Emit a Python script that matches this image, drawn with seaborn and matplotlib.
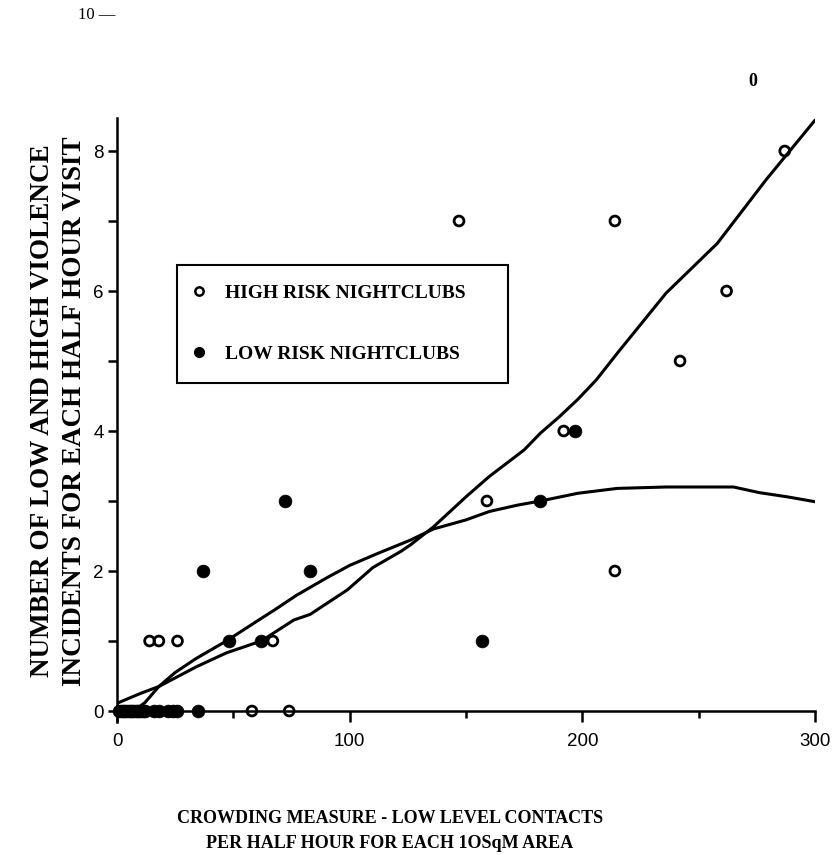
import numpy as np
import pandas as pd
import matplotlib
matplotlib.use("Agg")
import matplotlib.pyplot as plt
from matplotlib.lines import Line2D
import seaborn as sns

# ---- data ----
high_x = [14, 18, 26, 58, 67, 74, 147, 159, 192, 214, 214, 242, 262, 287]
high_y = [1, 1, 1, 0, 1, 0, 7, 3, 4, 7, 2, 5, 6, 8]

low_x = [1, 2, 3, 4, 5, 6, 7, 8, 9, 10, 11, 12, 16, 18, 22, 24, 26, 35,
         37, 48, 62, 72, 83, 157, 182, 197]
low_y = [0] * 18 + [2, 1, 1, 3, 2, 1, 3, 4]

# smoothed trend curves
high_curve_x = [0, 10, 18, 34, 47, 62, 76, 83, 99, 110, 122, 126, 136, 150, 160,
                175, 182, 190, 198, 206, 215, 236, 258, 279, 300]
high_curve_y = [0.11, 0.25, 0.35, 0.63, 0.83, 1.0, 1.3, 1.38, 1.73, 2.05, 2.28, 2.37,
                2.63, 3.06, 3.35, 3.73, 3.97, 4.2, 4.45, 4.73, 5.11, 5.97, 6.68, 7.59, 8.44]

low_curve_x = [0, 8, 12, 18, 25, 34, 47, 60, 68, 77, 90, 100, 112, 126, 136, 150,
               160, 172, 182, 198, 215, 236, 265, 276, 288, 300]
low_curve_y = [0.0, 0.02, 0.12, 0.35, 0.55, 0.75, 1.0, 1.28, 1.45, 1.65, 1.9, 2.08,
               2.25, 2.44, 2.6, 2.73, 2.85, 2.94, 3.0, 3.11, 3.18, 3.2, 3.2, 3.12,
               3.06, 2.99]

x_major = [0, 100, 200, 300]
x_minor = [50, 150, 250]
y_major = [0, 2, 4, 6, 8]
y_minor = [1, 3, 5, 7]

high_label = "HIGH RISK NIGHTCLUBS"
low_label = "LOW RISK NIGHTCLUBS"
xlabel = "CROWDING MEASURE - LOW LEVEL CONTACTS\nPER HALF HOUR FOR EACH 1OSqM AREA"
ylabel = "NUMBER OF LOW AND HIGH VIOLENCE\nINCIDENTS FOR EACH HALF HOUR VISIT"

# ---- figure ----
sns.set_style("ticks")
plt.rcParams["font.family"] = ["Liberation Sans", "DejaVu Sans"]
plt.rcParams["text.color"] = "black"
plt.rcParams["axes.labelcolor"] = "black"
plt.rcParams["xtick.color"] = "black"
plt.rcParams["ytick.color"] = "black"

W, H = 836, 855
fig = plt.figure(figsize=(W / 100, H / 100), dpi=100)
ax_left, ax_right = 117 / W, 815 / W
ax_bottom, ax_top = (H - 721.5) / H, (H - 118.1) / H
ax = fig.add_axes([ax_left, ax_bottom, ax_right - ax_left, ax_top - ax_bottom])

high_df = pd.DataFrame({"x": high_x, "y": high_y})
low_df = pd.DataFrame({"x": low_x, "y": low_y})

sns.lineplot(x=high_curve_x, y=high_curve_y, ax=ax, color="black", lw=2.2,
             estimator=None, zorder=2)
sns.lineplot(x=low_curve_x, y=low_curve_y, ax=ax, color="black", lw=2.2,
             estimator=None, zorder=2)

sns.scatterplot(data=low_df, x="x", y="y", ax=ax, marker="o", s=85,
                color="black", edgecolor="black", linewidth=0.5, zorder=3, clip_on=False)
sns.scatterplot(data=high_df, x="x", y="y", ax=ax, marker="o", s=50,
                facecolors="none", edgecolor="black", linewidth=2.0, zorder=4, clip_on=False)

ax.set_xlim(0, 300)
ax.set_ylim(-0.15, 8.47)
sns.despine(ax=ax)
ax.spines["bottom"].set_position(("data", 0))
for sp in ("left", "bottom"):
    ax.spines[sp].set_linewidth(1.8)
    ax.spines[sp].set_color("black")

ax.set_xticks(x_major)
ax.set_xticks(x_minor, minor=True)
ax.set_yticks(y_major)
ax.set_yticks(y_minor, minor=True)
ax.set_xticklabels([str(v) for v in x_major])
ax.set_yticklabels([str(v) for v in y_major])
ax.tick_params(axis="x", which="major", direction="out", length=8, width=1.8,
               pad=8, labelsize=13.5, colors="black")
ax.tick_params(axis="x", which="minor", direction="out", length=5, width=1.8)
ax.tick_params(axis="y", which="both", direction="out", length=6.5, width=1.8,
               pad=3, labelsize=13.5, colors="black")
for lab in ax.get_xticklabels() + ax.get_yticklabels():
    lab.set_fontweight("medium")

serif = ["Liberation Serif", "DejaVu Serif"]
ax.set_xlabel(xlabel, family=serif, weight="bold", fontsize=13, linespacing=1.6,
              color="black")
ax.xaxis.set_label_coords((390 - 117) / 698, (721.5 - 810) / 603.4)
ax.xaxis.label.set_va("top")

ax.set_ylabel(ylabel, family=serif, weight="bold", fontsize=19.5, linespacing=1.32,
              color="black")
ax.yaxis.set_label_coords((58.5 - 117) / 698, (721.5 - 411) / 603.4)
ax.yaxis.label.set_va("center")

handles = [
    Line2D([], [], linestyle="none", marker="o", markersize=6, markerfacecolor="none",
           markeredgecolor="black", markeredgewidth=1.8),
    Line2D([], [], linestyle="none", marker="o", markersize=7, markerfacecolor="black",
           markeredgecolor="black"),
]
leg = ax.legend(handles, [high_label, low_label],
                bbox_to_anchor=((167 - 117) / 698, (721.5 - 385) / 603.4,
                                (518 - 167) / 698, (385 - 255) / 603.4),
                loc="upper left", mode="expand", frameon=True, fancybox=False,
                borderpad=1.0, labelspacing=2.25, handlelength=0.3, handletextpad=1.2,
                prop={"family": serif, "weight": "bold", "size": 14})
leg.get_frame().set_edgecolor("black")
leg.get_frame().set_linewidth(1.5)
leg.get_frame().set_alpha(1)
for t in leg.get_texts():
    t.set_color("black")

fig.text(78 / W, 1 - 15 / H, "10 \u2014", family=serif, fontsize=12,
         ha="left", va="center", color="black")
fig.text(753 / W, 1 - 82 / H, "0", family=serif, weight="bold", fontsize=13,
         ha="center", va="center", color="black")

fig.savefig("out.png", dpi=100)
